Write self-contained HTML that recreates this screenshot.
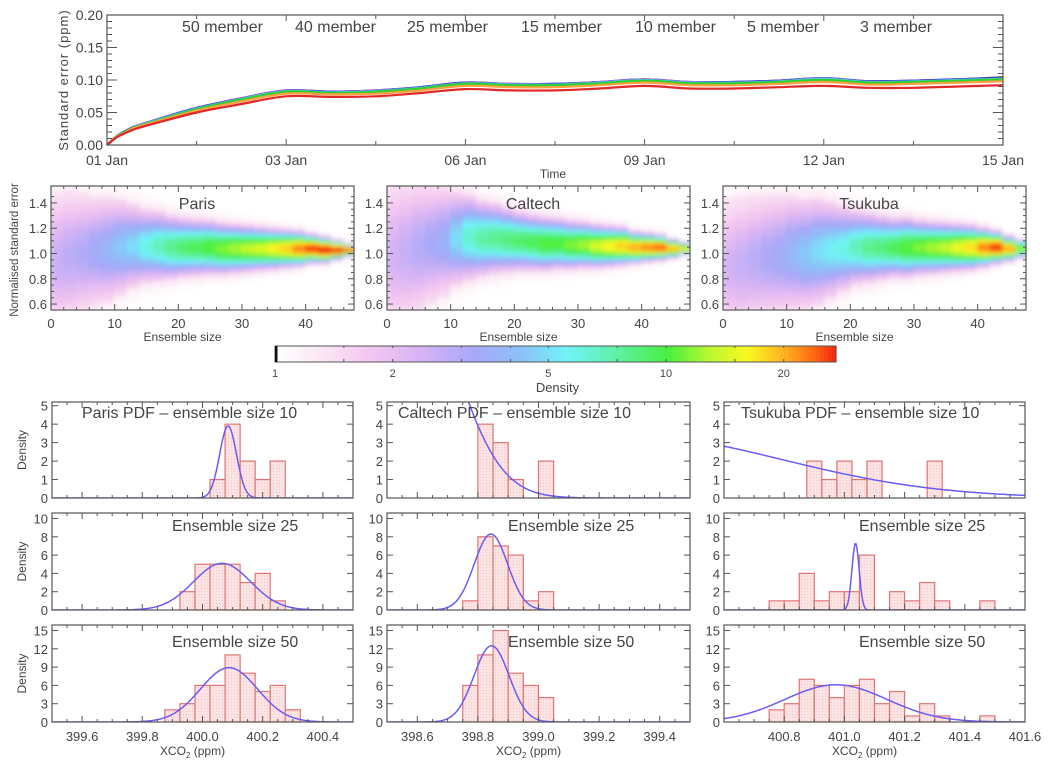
<!DOCTYPE html>
<html><head><meta charset="utf-8">
<style>
body{margin:0;background:#fff;}
svg{display:block;font-family:"Liberation Sans",sans-serif;}
text{fill:#444;}
</style></head>
<body>
<svg id="fig" width="1051" height="769" viewBox="0 0 1051 769">
<defs>
<filter id="blur" x="0" y="0" width="1" height="1"><feGaussianBlur stdDeviation="2.2"/></filter>
<pattern id="dots" width="3" height="3" patternUnits="userSpaceOnUse"><rect width="3" height="3" fill="#fde4e4"/><rect width="1" height="1" fill="#f6c4c4"/></pattern>
<clipPath id="c0"><rect x="51" y="186" width="303" height="124"/></clipPath>
<clipPath id="c1"><rect x="387" y="186" width="303" height="124"/></clipPath>
<clipPath id="c2"><rect x="723" y="186" width="303" height="124"/></clipPath>
</defs>
</svg>
<script>
// ---------- top chart data ----------
const topTimes=[0,0.05,0.1,0.15,0.25,0.5,0.75,1,1.25,1.5,1.75,2,2.25,2.5,2.75,3,3.25,3.5,3.75,4,4.25,4.5,4.75,5];
const topTickLabels=["01 Jan","03 Jan","06 Jan","09 Jan","12 Jan","15 Jan"];
const topYTicks=["0.00","0.05","0.10","0.15","0.20"];
const m50=[0,0.013,0.021,0.028,0.037,0.057,0.072,0.084,0.082,0.084,0.089,0.096,0.094,0.094,0.097,0.101,0.097,0.097,0.099,0.103,0.098,0.099,0.101,0.104];
const m40=[0,0.013,0.021,0.028,0.037,0.057,0.072,0.084,0.082,0.084,0.089,0.096,0.094,0.094,0.097,0.101,0.097,0.097,0.099,0.103,0.098,0.099,0.101,0.103];
const m25=[0,0.013,0.021,0.027,0.036,0.057,0.071,0.083,0.082,0.083,0.089,0.096,0.093,0.094,0.096,0.100,0.096,0.097,0.099,0.102,0.098,0.099,0.101,0.103];
const m15=[0,0.013,0.020,0.027,0.036,0.056,0.071,0.083,0.081,0.083,0.088,0.095,0.093,0.093,0.096,0.100,0.096,0.096,0.098,0.102,0.097,0.098,0.100,0.102];
const m10=[0,0.012,0.020,0.027,0.035,0.055,0.070,0.082,0.080,0.082,0.087,0.094,0.092,0.092,0.095,0.099,0.095,0.095,0.097,0.100,0.096,0.097,0.099,0.101];
const m5=[0,0.012,0.019,0.026,0.034,0.053,0.067,0.079,0.078,0.079,0.084,0.091,0.089,0.089,0.092,0.096,0.092,0.092,0.094,0.097,0.093,0.094,0.096,0.098];
const m3=[0,0.011,0.018,0.024,0.032,0.050,0.063,0.075,0.074,0.075,0.080,0.086,0.084,0.084,0.087,0.091,0.087,0.087,0.089,0.091,0.088,0.088,0.090,0.092];
const memberNames=["50 member","40 member","25 member","15 member","10 member","5 member","3 member"];

// ---------- heatmap data (per ensemble-size column: centre, spread, peak density) ----------
const ensembleCols=[1,3,5,7,9,11,13,15,17,19,21,23,25,27,29,31,33,35,37,39,41,43,45,47];
const parisCentre=[0.95,0.98,1.0,1.02,1.03,1.05,1.06,1.06,1.06,1.05,1.05,1.05,1.05,1.04,1.04,1.04,1.04,1.04,1.04,1.04,1.04,1.03,1.03,1.03];
const parisSpread=[0.25,0.24,0.22,0.2,0.19,0.17,0.15,0.13,0.12,0.11,0.10,0.095,0.09,0.085,0.08,0.075,0.07,0.065,0.06,0.055,0.045,0.04,0.03,0.02];
const parisPeak=[2.2,2.4,2.6,3,3.4,4,4.5,5.5,6.5,7.5,8.5,9,10,11,12,13,14,16,18,22,26,28,28,24];
const caltechCentre=[1.0,1.02,1.05,1.08,1.1,1.12,1.13,1.12,1.12,1.11,1.1,1.09,1.08,1.08,1.07,1.07,1.06,1.06,1.06,1.05,1.05,1.05,1.04,1.04];
const caltechSpread=[0.28,0.27,0.25,0.22,0.2,0.17,0.15,0.13,0.12,0.11,0.1,0.095,0.09,0.085,0.08,0.075,0.07,0.065,0.06,0.05,0.045,0.04,0.03,0.02];
const caltechPeak=[2,2.2,2.5,2.8,3.2,4.5,6,7,7.5,8,8.5,9,10,10,11,12,14,16,18,20,22,24,20,16];
const tsukubaCentre=[0.9,0.92,0.95,0.97,0.98,1.0,1.0,1.02,1.03,1.04,1.05,1.05,1.05,1.05,1.05,1.05,1.05,1.05,1.05,1.05,1.05,1.05,1.04,1.04];
const tsukubaSpread=[0.25,0.25,0.24,0.23,0.22,0.21,0.2,0.19,0.17,0.15,0.13,0.12,0.11,0.1,0.1,0.09,0.085,0.08,0.075,0.07,0.06,0.05,0.04,0.03];
const tsukubaPeak=[2,2.2,2.4,2.7,3,3.5,4,4.5,5,5.5,6.5,7.5,8,9,10,11,12,13,15,17,22,26,20,12];
const heatXTicks=[0,10,20,30,40];
const heatYTicks=[0.6,0.8,1.0,1.2,1.4];
const cbarTicks=[1,2,5,10,20];

// ---------- histogram data ----------
const parisBins10=[1,4,2,1,2];      // start 400.025
const parisBins25=[2,5,5,5,3,4,1];  // start 399.925
const parisBins50=[2,3,6,6,11,8,5,6,2]; // start 399.875
const caltechBins10=[4,3,1,0,2];    // start 398.80
const caltechBins25=[1,8,7,6,1,2];  // start 398.75
const caltechBins50=[6,11,15,8,6,4];// start 398.75
const tsukubaBins10=[2,1,2,1,2,0,0,0,2]; // start 400.875
const tsukubaBins25=[1,1,4,1,2,2,6,0,2,1,3,1,0,0,1]; // start 400.75
const tsukubaBins50=[2,3,7,6,4,6,7,3,5,1,3,1,0,0,1]; // start 400.75
const binStarts=[400.025,399.925,399.875,398.80,398.75,398.75,400.875,400.75,400.75];
const pdfMean=[400.085,400.065,400.088,398.55,398.843,398.845,400.26,401.037,400.972];
const pdfSd=[0.028,0.095,0.095,0.16,0.055,0.058,0.53,0.012,0.17];
const pdfAmp=[3.9,5.1,8.9,13.3,8.3,12.5,3.45,7.3,6.1];

const NS="http://www.w3.org/2000/svg";
const svg=document.getElementById('fig');
function el(tag,attrs,parent){const e=document.createElementNS(NS,tag);for(const k in attrs)e.setAttribute(k,attrs[k]);(parent||svg).appendChild(e);return e;}
function txt(s,x,y,size,anchor,parent,color){const t=el('text',{x:x,y:y,'font-size':size,'text-anchor':anchor||'middle'},parent);if(color)t.setAttribute('fill',color);t.textContent=s;return t;}
function smoothPath(P){let d='M'+P[0][0].toFixed(1)+','+P[0][1].toFixed(1);
 for(let i=0;i<P.length-1;i++){const p0=P[Math.max(0,i-1)],p1=P[i],p2=P[i+1],p3=P[Math.min(P.length-1,i+2)];
  const c1=[p1[0]+(p2[0]-p0[0])/6,p1[1]+(p2[1]-p0[1])/6],c2=[p2[0]-(p3[0]-p1[0])/6,p2[1]-(p3[1]-p1[1])/6];
  d+=' C'+c1[0].toFixed(1)+','+c1[1].toFixed(1)+' '+c2[0].toFixed(1)+','+c2[1].toFixed(1)+' '+p2[0].toFixed(1)+','+p2[1].toFixed(1);}
 return d;}

// ================= TOP CHART =================
const T={l:107,r:1003,t:15,b:145};
const tx=v=>T.l+(v/5)*(T.r-T.l);
const ty=v=>T.b-(v/0.2)*(T.b-T.t);
const topG=el('g',{});


for(let i=0;i<=20;i++){const y=ty(i*0.01);const L=i%5==0?10:5;
 el('line',{x1:T.l,x2:T.l+L,y1:y,y2:y,stroke:'#555','stroke-width':1},topG);
 el('line',{x1:T.r-L,x2:T.r,y1:y,y2:y,stroke:'#555','stroke-width':1},topG);}
for(let i=0;i<=10;i++){const x=tx(i/2);const L=i%2==0?6:4;
 el('line',{x1:x,x2:x,y1:T.b,y2:T.b-L,stroke:'#555'},topG);
 el('line',{x1:x,x2:x,y1:T.t,y2:T.t+L,stroke:'#555'},topG);}
topYTicks.forEach((s,i)=>{const t=txt(s,103,ty(i*0.05)+5,14,'end',topG);});
topTickLabels.forEach((s,i)=>{const t=txt(s,tx(i),165,14,'middle',topG);});
let tt=txt('Time',T.l+(T.r-T.l)/2-2,178,12,'middle',topG);

let yt=txt('Standard error (ppm)',0,0,13,'middle',topG);
yt.setAttribute('transform','translate(68,80) rotate(-90)');yt.setAttribute('letter-spacing','1');

const series=[m50,m40,m25,m15,m10,m5,m3];
const colors=['#333333','#a45cf0','#3c3cdc','#48c8d4','#30d030','#ffa040','#e02828'];
series.forEach((arr,k)=>{
 const P=arr.map((v,i)=>[tx(topTimes[i]),ty(v)]);
 const p=el('path',{d:smoothPath(P),fill:'none',stroke:colors[k],'stroke-width':2.2,'stroke-linejoin':'round'},topG);
 
 
});
el('rect',{x:T.l,y:T.t,width:T.r-T.l,height:T.b-T.t,fill:'none',stroke:'#555','stroke-width':1.2},topG);
const legX=[182,295,407,521,635,747,860];
memberNames.forEach((s,k)=>{const t=txt(s,legX[k],32,16,'start',topG,colors[k]);
 });

// ================= COLORMAP =================
const stops=[[1,'#ffffff'],[1.3,'#fbe8f4'],[1.7,'#f4c8f0'],[2.3,'#d8b4f4'],[3.2,'#a8a8f8'],[4.2,'#8cc0f8'],[5.5,'#70f4f8'],[7.5,'#60f0a0'],[10,'#48f040'],[13,'#c0f830'],[16,'#f8f820'],[20,'#ffb020'],[24,'#ff6010'],[27.2,'#f02010']];
function hex(c){return [parseInt(c.substr(1,2),16),parseInt(c.substr(3,2),16),parseInt(c.substr(5,2),16)];}
function cmap(d){if(d<=1)return null;if(d>=27.2)return stops[stops.length-1][1];
 for(let i=0;i<stops.length-1;i++){if(d<=stops[i+1][0]){const a=Math.log(stops[i][0]),b=Math.log(stops[i+1][0]);const f=(Math.log(d)-a)/(b-a);
 const c1=hex(stops[i][1]),c2=hex(stops[i+1][1]);return 'rgb('+c1.map((v,j)=>Math.round(v+(c2[j]-v)*f)).join(',')+')';}}}

// ================= HEATMAPS =================
const H={t:186,b:310,ymin:0.553,ymax:1.534,xmax:47.6,w:303};
const heatLefts=[51,387,723];
const heatNames=['Paris','Caltech','Tsukuba'];
const heatData=[[parisCentre,parisSpread,parisPeak],[caltechCentre,caltechSpread,caltechPeak],[tsukubaCentre,tsukubaSpread,tsukubaPeak]];
heatLefts.forEach((L,p)=>{
 const g=el('g',{});
 
 
 const hx=v=>L+v/H.xmax*H.w;
 const hy=v=>H.b-(v-H.ymin)/(H.ymax-H.ymin)*(H.b-H.t);
 const cg=el('g',{'clip-path':'url(#c'+p+')'},g);
 const bg=el('g',{filter:'url(#blur)'},cg);
 el('rect',{x:L,y:H.t,width:H.w,height:H.b-H.t,fill:'#fff'},bg);
 const [C,S,P]=heatData[p];
 const step=0.02;
 ensembleCols.forEach((ex,i)=>{
  for(let yv=H.ymin;yv<H.ymax;yv+=step){
   const z=(yv+step/2-C[i])/S[i];
   const d=1+(P[i]-0.8)*Math.exp(-0.5*z*z)+(Math.abs(z)<2.2?0.2:0);
   const col=cmap(d); if(!col)continue;
   const r=el('rect',{x:hx(ex-1)-0.5,y:hy(yv+step)-0.3,width:hx(ex+1)-hx(ex-1)+1,height:hy(yv)-hy(yv+step)+0.6,fill:col},bg);
   
   
  }
 });
 for(let v=0.6;v<=1.5;v+=0.05){const y=hy(v);const Lt=Math.round(v*100)%20==0?6:3;
  el('line',{x1:L,x2:L+Lt,y1:y,y2:y,stroke:'#555'},g);el('line',{x1:L+H.w-Lt,x2:L+H.w,y1:y,y2:y,stroke:'#555'},g);}
 for(let v=0;v<=47;v+=2){const x=hx(v);const Lt=v%10==0?6:3;
  el('line',{x1:x,x2:x,y1:H.b,y2:H.b-Lt,stroke:'#555'},g);el('line',{x1:x,x2:x,y1:H.t,y2:H.t+Lt,stroke:'#555'},g);}
 el('rect',{x:L,y:H.t,width:H.w,height:H.b-H.t,fill:'none',stroke:'#555','stroke-width':1.2},g);
 heatYTicks.forEach(v=>{const t=txt(v.toFixed(1),L-4,hy(v)+5,13,'end',g);});
 heatXTicks.forEach(v=>{const t=txt(String(v),hx(v),328,13,'middle',g);});
 const xt=txt('Ensemble size',L+H.w/2-20,341,12,'middle',g);
 const ti=txt(heatNames[p],L+146,209,16,'middle',g);
});
let hyT=txt('Normalised standard error',0,0,11.5,'middle');
hyT.setAttribute('transform','translate(18,250) rotate(-90)');


// ================= COLORBAR =================
const CB={l:275,r:836,t:346,b:362,max:27.2};
const cbx=v=>CB.l+Math.log(v)/Math.log(CB.max)*(CB.r-CB.l);
const cbG=el('g',{});


for(let i=0;i<140;i++){const d0=Math.exp(i/140*Math.log(CB.max)),d1=Math.exp((i+1)/140*Math.log(CB.max));
 el('rect',{x:cbx(d0),y:CB.t,width:cbx(d1)-cbx(d0)+0.6,height:CB.b-CB.t,fill:cmap(Math.max(d0*1.001,1.0001))},cbG);}
el('rect',{x:CB.l,y:CB.t,width:CB.r-CB.l,height:CB.b-CB.t,fill:'none',stroke:'#555'},cbG);
el('rect',{x:CB.l,y:CB.t,width:2.5,height:CB.b-CB.t,fill:'#111'},cbG);
[1.5,2,3,4,5,7.5,10,15,20].forEach(v=>{el('line',{x1:cbx(v),x2:cbx(v),y1:CB.b,y2:CB.b-3,stroke:'#555'},cbG);el('line',{x1:cbx(v),x2:cbx(v),y1:CB.t,y2:CB.t+2,stroke:'#555'},cbG);});
cbarTicks.forEach(v=>{const t=txt(String(v),cbx(v),377,11,'middle',cbG);});
let dT=txt('Density',(CB.l+CB.r)/2+2,392,13,'middle',cbG);


// ================= HISTOGRAMS =================
const rows=[{t:402,b:498,max:5.2,ticks:[0,1,2,3,4,5]},{t:513,b:610,max:10.6,ticks:[0,2,4,6,8,10]},{t:625,b:722,max:15.9,ticks:[0,3,6,9,12,15]}];
const cols=[{l:52,r:353,min:399.5,labels:[399.6,399.8,400.0,400.2,400.4]},{l:387,r:690,min:398.5,labels:[398.6,398.8,399.0,399.2,399.4]},{l:724,r:1025,min:400.6,labels:[400.8,401.0,401.2,401.4,401.6]}];
const allBins=[parisBins10,parisBins25,parisBins50,caltechBins10,caltechBins25,caltechBins50,tsukubaBins10,tsukubaBins25,tsukubaBins50];
const titles=[["Paris PDF \u2013 ensemble size 10","Ensemble size 25","Ensemble size 50"],["Caltech PDF \u2013 ensemble size 10","Ensemble size 25","Ensemble size 50"],["Tsukuba PDF \u2013 ensemble size 10","Ensemble size 25","Ensemble size 50"]];
const titleX=[[82,172,172],[398,508,508],[741,859,859]];
const titleY=[418,531,647];
cols.forEach((c,ci)=>{rows.forEach((r,ri)=>{
 const k=ci*3+ri;
 const g=el('g',{});
 
 
 const clipId='hc'+k;
 const cp=el('clipPath',{id:clipId},g);el('rect',{x:c.l,y:r.t,width:c.r-c.l,height:r.b-r.t},cp);
 const hx=v=>c.l+(v-c.min)*(c.r-c.l);
 const hy=v=>r.b-v/r.max*(r.b-r.t);
 const inner=el('g',{'clip-path':'url(#'+clipId+')'},g);
 allBins[k].forEach((n,i)=>{const x0=hx(binStarts[k]+i*0.05),x1=hx(binStarts[k]+(i+1)*0.05);
  const b=el('rect',{x:x0,y:hy(n),width:x1-x0,height:hy(0)-hy(n),fill:'url(#dots)',stroke:'#e07474','stroke-width':1.2},inner);
  });
 let pts=[];for(let px=c.l;px<=c.r;px+=1){const v=c.min+(px-c.l)/(c.r-c.l);const z=(v-pdfMean[k])/pdfSd[k];pts.push(px+','+hy(pdfAmp[k]*Math.exp(-0.5*z*z)).toFixed(1));}
 const cu=el('polyline',{points:pts.join(' '),fill:'none',stroke:'#6a5cf4','stroke-width':1.5},inner);
 
 r.ticks.forEach(v=>{const y=hy(v);el('line',{x1:c.l,x2:c.l+6,y1:y,y2:y,stroke:'#555'},g);el('line',{x1:c.r-6,x2:c.r,y1:y,y2:y,stroke:'#555'},g);
  const t=txt(String(v),c.l-4,y+5,13,'end',g);});
 for(let j=0;j<=20;j++){const x=hx(c.min+j*0.05);const L=(j%4==(ci==2?0:2))?6:3;
  el('line',{x1:x,x2:x,y1:r.b,y2:r.b-L,stroke:'#555'},g);el('line',{x1:x,x2:x,y1:r.t,y2:r.t+L,stroke:'#555'},g);}
 el('rect',{x:c.l,y:r.t,width:c.r-c.l,height:r.b-r.t,fill:'none',stroke:'#555','stroke-width':1.2},g);
 const ti=txt(titles[ci][ri],titleX[ci][ri],titleY[ri],16,'start',g);
 if(ri==2){c.labels.forEach(v=>{const t=txt(v.toFixed(1),hx(v),741,13,'middle',g);});
  const xt=el('text',{x:(c.l+c.r)/2-10,y:755,'font-size':12,'text-anchor':'middle'},g);
  
  xt.innerHTML='XCO<tspan font-size="8" dy="3">2</tspan><tspan dy="-3"> (ppm)</tspan>';}
 if(ci==0){const d=txt('Density',0,0,12,'middle',g);d.setAttribute('transform','translate('+26+','+((r.t+r.b)/2)+') rotate(-90)');
  }
});});
</script>
</body></html>
